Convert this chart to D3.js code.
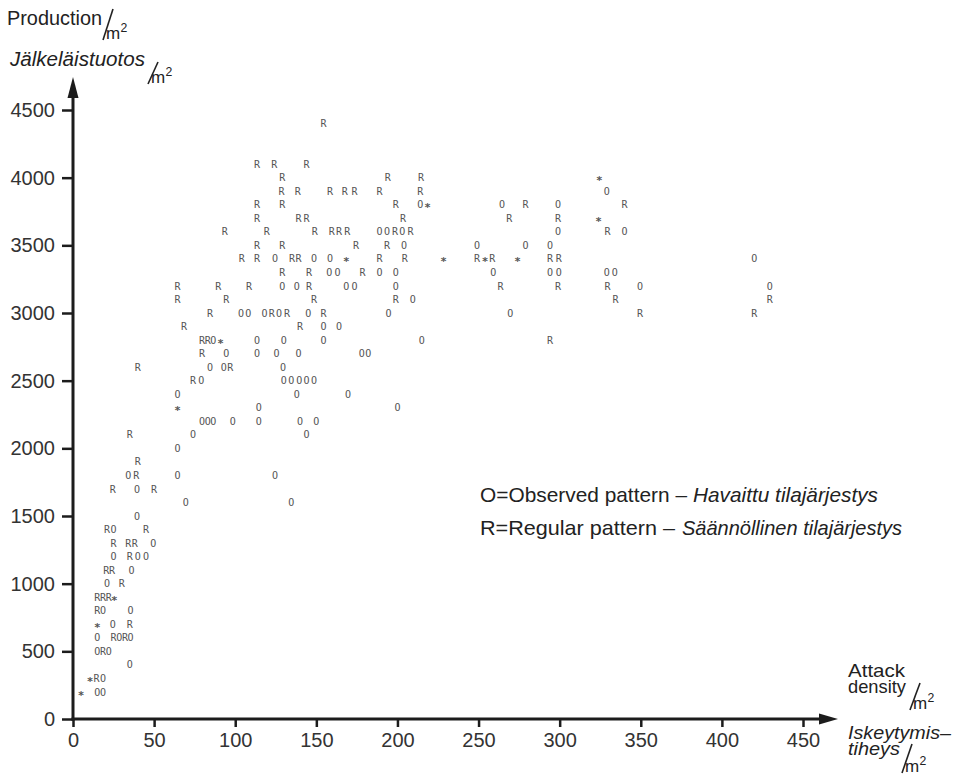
<!DOCTYPE html>
<html>
<head>
<meta charset="utf-8">
<script src="https://cdn.jsdelivr.net/npm/d3@7"></script>
<style>
  body { margin: 0; background: #fff; }
  svg { display: block; }
</style>
</head>
<body>
<svg id="chart" width="963" height="777"></svg>
<script>
// Axis ticks
const xTicks = [0, 50, 100, 150, 200, 250, 300, 350, 400, 450];
const yTicks = [0, 500, 1000, 1500, 2000, 2500, 3000, 3500, 4000, 4500];

// Plot points, grouped by production level: [production, [attack densities...]]
// O = observed spatial pattern
const observedRows = [
  [3900, [329]],
  [3800, [214, 264.5, 299]],
  [3600, [189, 193.5, 203, 299, 340]],
  [3500, [204, 249, 279, 294]],
  [3400, [124.5, 148.5, 158.5, 420]],
  [3300, [158, 163, 189, 199, 259, 294, 299.5, 329, 334]],
  [3200, [129, 138, 168.5, 173.5, 199, 349.5, 429.5]],
  [3100, [209.5]],
  [3000, [103.5, 108, 118, 127, 145, 194.5, 269.5]],
  [2900, [154.5, 164]],
  [2800, [86.5, 113.5, 130, 154.5, 215]],
  [2700, [94.5, 113.5, 125.5, 139, 178, 182]],
  [2600, [84.5, 93, 129.5]],
  [2500, [79, 130, 134.5, 139.5, 144, 148.5]],
  [2400, [64.5, 138, 169.5]],
  [2300, [114.5, 200]],
  [2200, [79.5, 83, 86.5, 98.5, 114.5, 140, 150]],
  [2100, [74, 144]],
  [2000, [64.5]],
  [1800, [34, 64.5, 124.5]],
  [1700, [39.5]],
  [1600, [69.5, 134.5]],
  [1500, [39.5]],
  [1400, [25]],
  [1300, [49.5]],
  [1200, [25, 40, 45]],
  [1100, [36]],
  [1000, [21]],
  [800, [18.5, 35.5]],
  [700, [24.5]],
  [600, [15, 28.5, 35.5]],
  [500, [15, 22]],
  [400, [35]],
  [300, [18.5]],
  [200, [15, 18.5]]
];

// R = regular spatial pattern
const regularRows = [
  [4400, [154.5]],
  [4100, [113.5, 124, 144]],
  [4000, [129, 194, 214.5]],
  [3900, [128.5, 138.5, 158.5, 167.5, 173.5, 189, 214]],
  [3800, [113.5, 129, 199, 279, 340]],
  [3700, [113.5, 139, 144, 203.5, 269, 299]],
  [3600, [93.5, 119.5, 149, 159.5, 164, 169, 198.5, 208, 329.5]],
  [3500, [113.5, 129, 174.5, 193.5]],
  [3400, [104, 113.5, 135, 139, 189, 204.5, 249, 258.5, 294, 299.5]],
  [3300, [129, 145.5, 178.5]],
  [3200, [64.5, 89.5, 108.5, 145.5, 263.5, 299, 329.5]],
  [3100, [64.5, 94.5, 148.5, 199, 334.5, 429.5]],
  [3000, [84.5, 122.5, 132, 154.5, 349.5, 420]],
  [2900, [68.5, 140]],
  [2800, [79.5, 83, 294]],
  [2700, [79.5]],
  [2600, [40, 97]],
  [2500, [74]],
  [2100, [35]],
  [1900, [40]],
  [1800, [39]],
  [1700, [24.5, 50]],
  [1400, [21, 45]],
  [1300, [25, 34, 38]],
  [1200, [35]],
  [1100, [20.5, 24]],
  [1000, [30]],
  [900, [15, 18.5, 22]],
  [800, [15]],
  [700, [35]],
  [600, [25, 32]],
  [500, [18.5]],
  [300, [14.5]]
];

// * = both patterns at the same point
const coincidentRows = [
  [4000, [324.5]],
  [3800, [218.5]],
  [3700, [324]],
  [3400, [168.5, 228.5, 254, 274]],
  [2800, [91]],
  [2300, [64.5]],
  [900, [25.5]],
  [700, [15]],
  [300, [10.5]],
  [200, [5]]
];

const symbolSeries = [
  { symbol: "O", rows: observedRows },
  { symbol: "R", rows: regularRows },
  { symbol: "*", rows: coincidentRows }
];

const svg = d3.select("#chart");
const ink = "#1c1c1c";
const labelFont = "'Liberation Sans', Arial, sans-serif";

const x = d3.scaleLinear().domain([0, 450]).range([73, 803]);
const y = d3.scaleLinear().domain([0, 4500]).range([719, 110]);

// Symbols
const points = symbolSeries.flatMap(s =>
  s.rows.flatMap(([prod, xs]) => xs.map(d => ({ x: d, y: prod, s: s.symbol })))
);

svg.append("g")
  .attr("font-family", "'DejaVu Sans Mono', monospace")
  .attr("fill", "#555")
  .selectAll("text")
  .data(points)
  .join("text")
  .attr("x", d => x(d.x))
  .attr("y", d => y(d.y))
  .attr("text-anchor", "middle")
  .attr("font-size", d => d.s === "*" ? 11 : 10)
  .attr("font-weight", d => d.s === "*" ? "bold" : "normal")
  .attr("dy", d => d.s === "*" ? "0.6em" : "0.36em")
  .text(d => d.s);

// Y axis
const yAxis = svg.append("g")
  .attr("transform", `translate(${x(0)},0)`)
  .call(d3.axisLeft(y).tickValues(yTicks).tickSize(11).tickPadding(7).tickFormat(d3.format("d")));
yAxis.select(".domain").remove();
yAxis.selectAll(".tick line").attr("stroke", ink).attr("stroke-width", 2.5);
yAxis.selectAll(".tick text")
  .attr("font-family", labelFont).attr("font-size", 20).attr("fill", "#333");

// X axis
const xAxis = svg.append("g")
  .attr("transform", `translate(0,${y(0)})`)
  .call(d3.axisBottom(x).tickValues(xTicks).tickSize(8).tickPadding(6).tickFormat(d3.format("d")));
xAxis.select(".domain").remove();
xAxis.selectAll(".tick line").attr("stroke", ink).attr("stroke-width", 2.5);
xAxis.selectAll(".tick text")
  .attr("font-family", labelFont).attr("font-size", 20).attr("fill", "#333");

// Axis lines with arrowheads
svg.append("line")
  .attr("x1", x(0)).attr("y1", y(0) + 1.5).attr("x2", x(0)).attr("y2", 94)
  .attr("stroke", ink).attr("stroke-width", 3);
svg.append("path")
  .attr("d", `M${x(0)},77 L${x(0) - 5.5},98 L${x(0) + 5.5},98 Z`)
  .attr("fill", ink);
svg.append("line")
  .attr("x1", x(0) - 1.5).attr("y1", y(0)).attr("x2", 822).attr("y2", y(0))
  .attr("stroke", ink).attr("stroke-width", 3);
svg.append("path")
  .attr("d", `M838,${y(0)} L819,${y(0) - 5.5} L819,${y(0) + 5.5} Z`)
  .attr("fill", ink);

// Unit "/m²" drawn with a long slash, small m and raised 2
function perSquareMetre(g, sx, sy, h, size) {
  g.append("line")
    .attr("x1", sx + 10).attr("y1", sy).attr("x2", sx).attr("y2", sy + h)
    .attr("stroke", "#222").attr("stroke-width", 1.6);
  g.append("text")
    .attr("x", sx + 3).attr("y", sy + h - 1)
    .attr("font-family", labelFont).attr("font-size", size).attr("fill", "#222")
    .text("m");
  g.append("text")
    .attr("x", sx + 3 + size * 0.86).attr("y", sy + h - size * 0.45)
    .attr("font-family", labelFont).attr("font-size", size * 0.72).attr("fill", "#222")
    .text("2");
}

function label(g, text, tx, ty, size, width, italic) {
  g.append("text")
    .attr("x", tx).attr("y", ty)
    .attr("font-family", labelFont)
    .attr("font-size", size)
    .attr("font-style", italic ? "italic" : "normal")
    .attr("fill", "#222")
    .attr("textLength", width)
    .attr("lengthAdjust", "spacingAndGlyphs")
    .text(text);
}

const titles = svg.append("g");
// Y axis title
label(titles, "Production", 7, 25, 20, 95, false);
perSquareMetre(titles, 103, 9, 31, 17);
label(titles, "Jälkeläistuotos", 10, 66, 20, 135, true);
perSquareMetre(titles, 148, 62, 22, 17);

// X axis title
label(titles, "Attack", 848, 677, 18.5, 57, false);
label(titles, "density", 848, 693, 18.5, 58, false);
perSquareMetre(titles, 910, 683, 27, 17);
label(titles, "Iskeytymis–", 848, 739, 18.5, 103, true);
label(titles, "tiheys", 848, 755, 18.5, 52, true);
perSquareMetre(titles, 902, 744, 29, 17);

// Legend
const legend = svg.append("g");
label(legend, "O=Observed pattern –", 480, 502, 21, 207, false);
label(legend, "Havaittu tilajärjestys", 693, 502, 21, 185, true);
label(legend, "R=Regular pattern –", 480, 535, 21, 195, false);
label(legend, "Säännöllinen tilajärjestys", 682, 535, 21, 220, true);
</script>
</body>
</html>
